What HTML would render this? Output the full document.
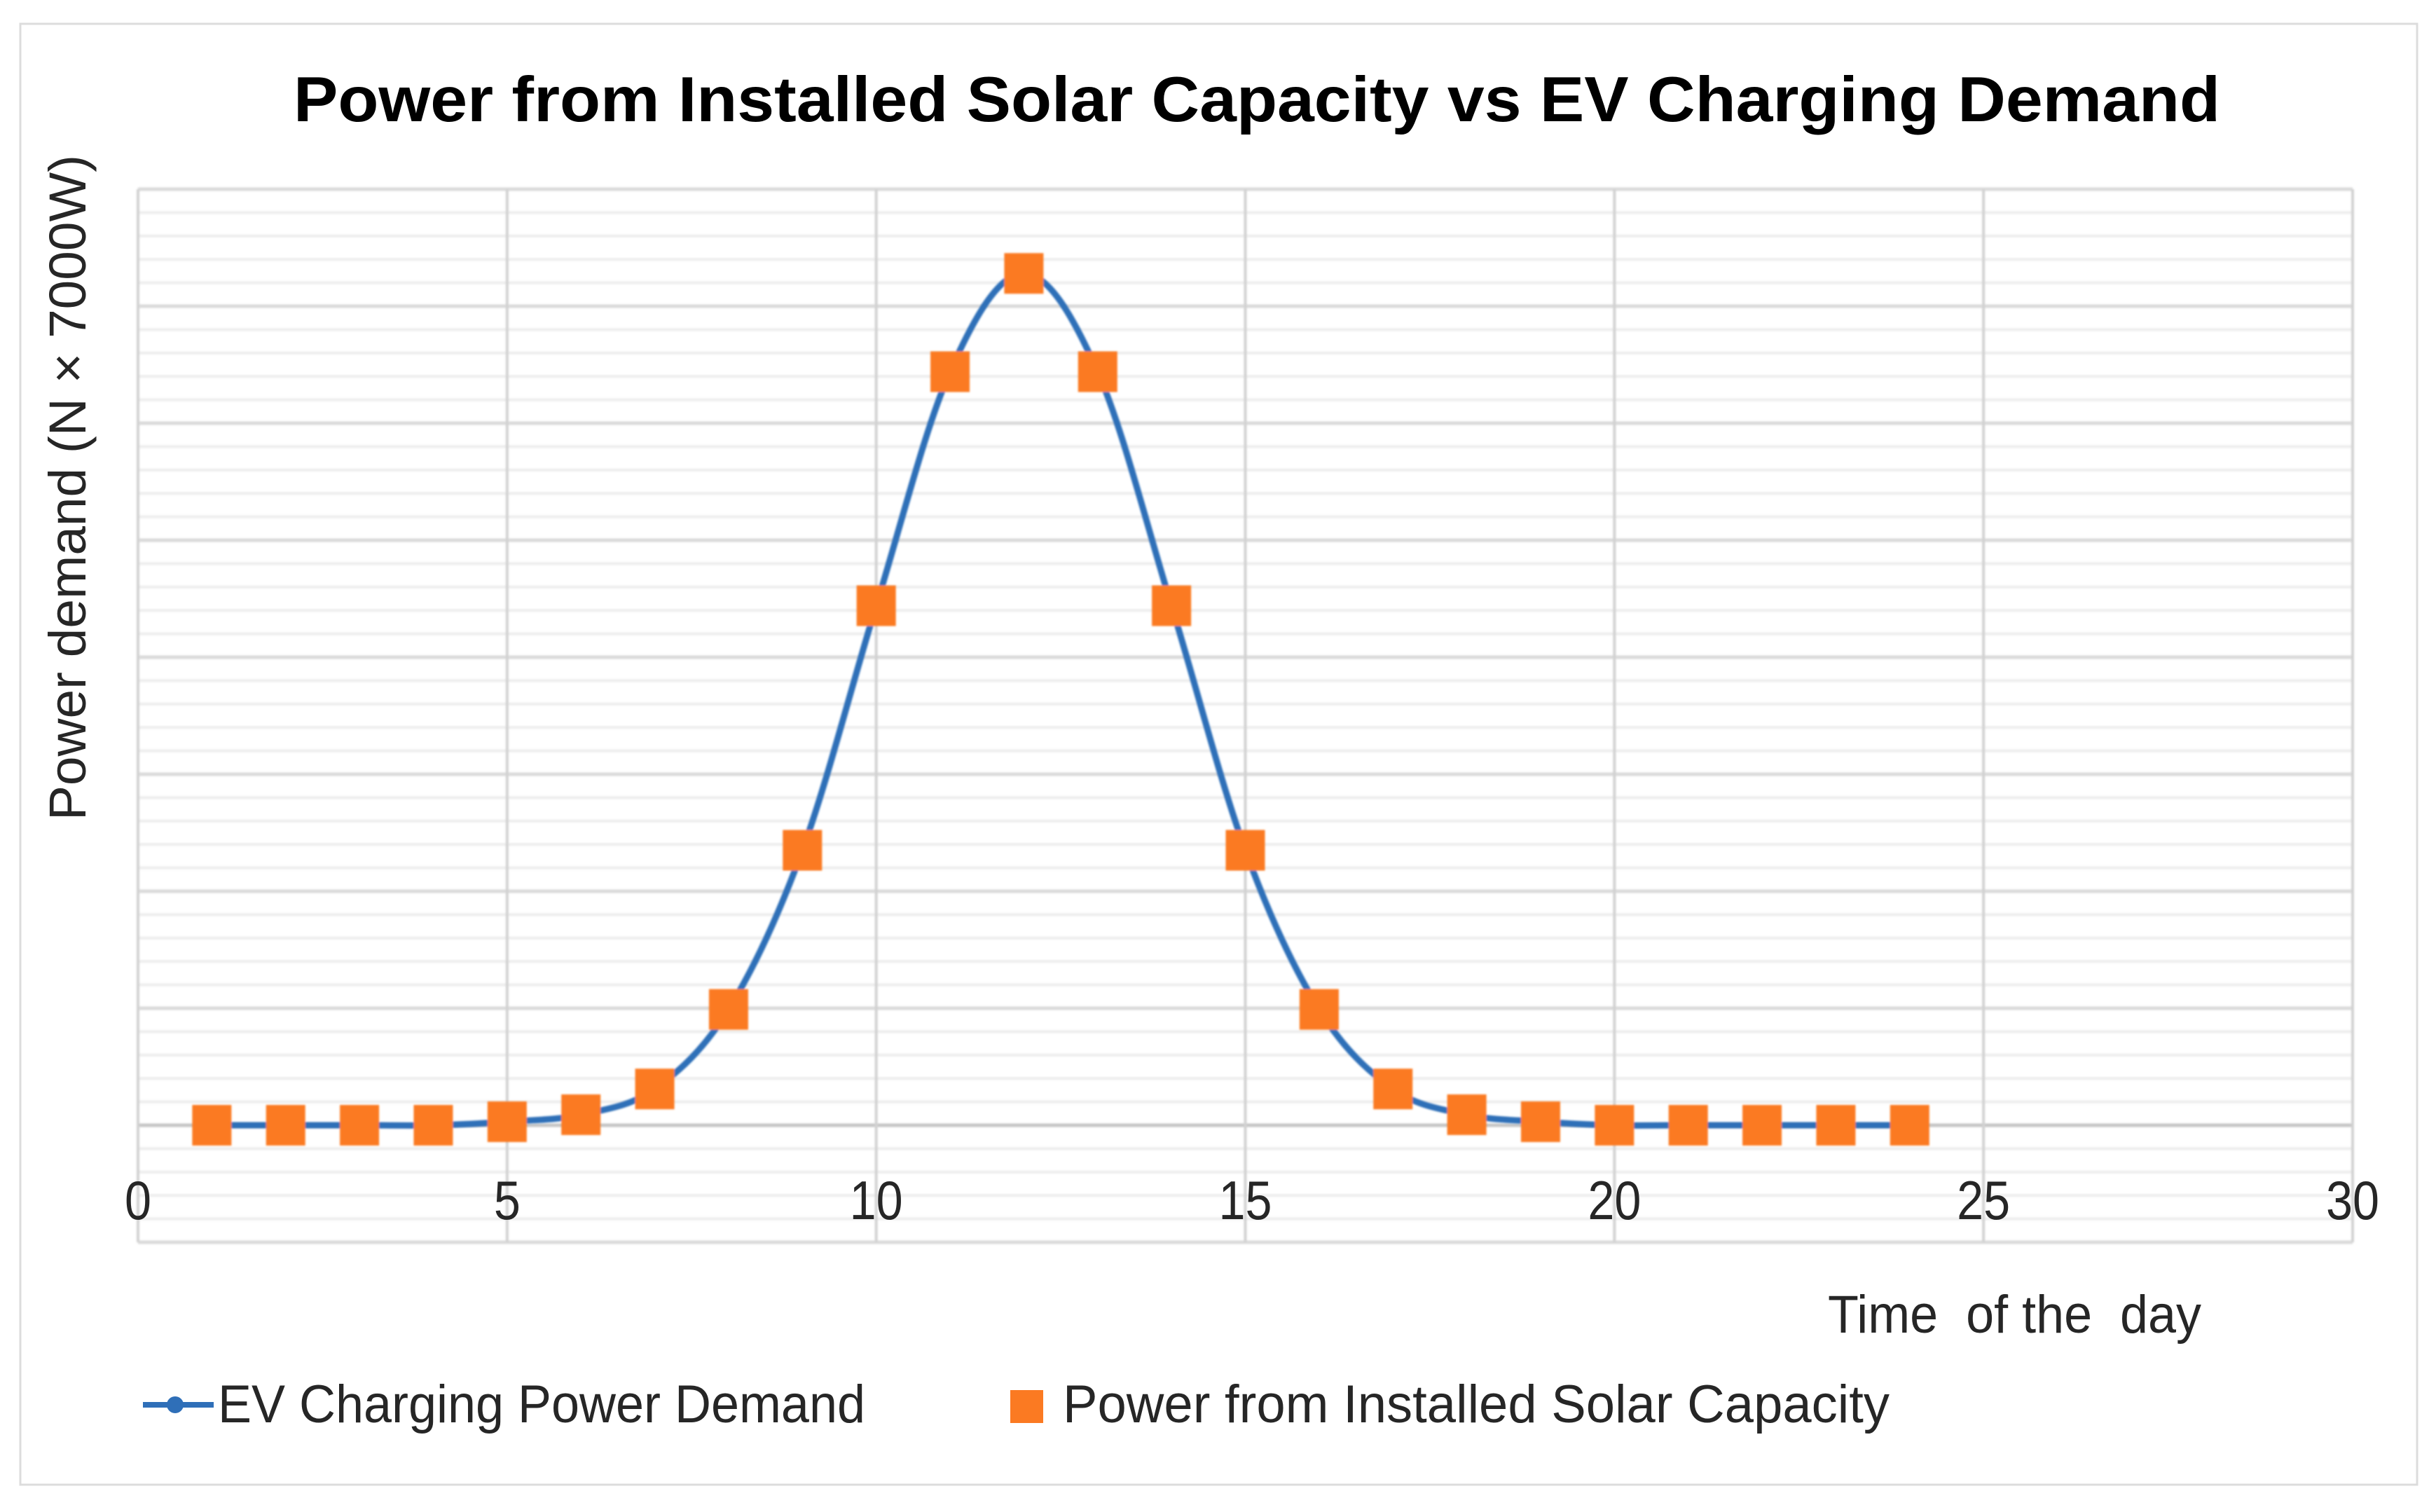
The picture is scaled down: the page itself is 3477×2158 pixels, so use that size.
<!DOCTYPE html>
<html lang="en">
<head>
<meta charset="utf-8">
<title>Power from Installed Solar Capacity vs EV Charging Demand</title>
<style>
  html, body { margin: 0; padding: 0; background: #ffffff; }
  body { width: 3477px; height: 2158px; overflow: hidden; }
  svg { display: block; }
  text { font-family: "Liberation Sans", sans-serif; fill: #262626; }
</style>
</head>
<body>
<svg id="chart" xmlns="http://www.w3.org/2000/svg" width="3477" height="2158" viewBox="0 0 3477 2158">
  <rect x="0" y="0" width="3477" height="2158" fill="#ffffff"/>
  <rect x="29" y="34" width="3421" height="2085" fill="#ffffff" stroke="#dcdcdc" stroke-width="3"/>
  <g id="grid" filter="url(#soft)"></g>
  <g id="series" filter="url(#soft)"></g>
  <g id="ticks"></g>
  <text x="419" y="173" font-size="91" font-weight="700" textLength="2750" lengthAdjust="spacingAndGlyphs" style="fill:#000000">Power from Installed Solar Capacity vs EV Charging Demand</text>
  <text transform="translate(122,1171) rotate(-90)" x="0" y="0" font-size="74" textLength="950" lengthAdjust="spacingAndGlyphs">Power demand (N × 7000W)</text>
  <text x="2609" y="1902" font-size="76" textLength="533" lengthAdjust="spacingAndGlyphs" xml:space="preserve">Time  of the  day</text>
  <g>
    <line x1="204" y1="2005" x2="305" y2="2005" stroke="#2f6fb8" stroke-width="8"/>
    <circle cx="250" cy="2005" r="12" fill="#2f6fb8"/>
    <text x="311" y="2030" font-size="76" textLength="924" lengthAdjust="spacingAndGlyphs">EV Charging Power Demand</text>
  </g>
  <g>
    <rect x="1442" y="1984" width="47" height="47" fill="#fb7a22"/>
    <text x="1525" y="2030" font-size="76" textLength="1180" lengthAdjust="spacingAndGlyphs" transform="translate(-8,0)">Power from Installed Solar Capacity</text>
  </g>
  <defs>
    <filter id="soft" x="-5%" y="-5%" width="110%" height="110%"><feGaussianBlur stdDeviation="1.2"/></filter>
  </defs>
</svg>
<script>
const hours = [1,2,3,4,5,6,7,8,9,10,11,12,13,14,15,16,17,18,19,20,21,22,23,24];
const demandValues = [0,0,0,0,0.03,0.09,0.31,0.99,2.35,4.44,6.44,7.28,6.44,4.44,2.35,0.99,0.31,0.09,0.03,0,0,0,0,0];
const solarValues = [0,0,0,0,0.03,0.09,0.31,0.99,2.35,4.44,6.44,7.28,6.44,4.44,2.35,0.99,0.31,0.09,0.03,0,0,0,0,0];
const xTickValues = [0,5,10,15,20,25,30];
const xTickLabels = ['0','5','10','15','20','25','30'];
const yMajorTicks = [-1,0,1,2,3,4,5,6,7,8];
const minorPerMajor = 5;

const NS = 'http://www.w3.org/2000/svg';
function xScale(v) { return 197 + (v - 0) * (3358 - 197) / 30; }
function yScale(v) { return 1606 - v * 167; }

const grid = document.getElementById('grid');
const seriesGroup = document.getElementById('series');
const ticksGroup = document.getElementById('ticks');

// Minor horizontal gridlines
for (let i = 0; i < yMajorTicks.length - 1; i++) {
  for (let m = 1; m < minorPerMajor; m++) {
    const v = yMajorTicks[i] + m / minorPerMajor;
    const line = document.createElementNS(NS, 'line');
    
    
    line.setAttribute('x1', xScale(0));
    line.setAttribute('x2', xScale(30));
    line.setAttribute('y1', yScale(v));
    line.setAttribute('y2', yScale(v));
    line.setAttribute('stroke', '#ededed');
    line.setAttribute('stroke-width', '4');
    grid.appendChild(line);
  }
}
// Major horizontal gridlines
yMajorTicks.forEach(function (v) {
  const line = document.createElementNS(NS, 'line');
  
  
  line.setAttribute('x1', xScale(0));
  line.setAttribute('x2', xScale(30));
  line.setAttribute('y1', yScale(v));
  line.setAttribute('y2', yScale(v));
  line.setAttribute('stroke', v === 0 ? '#c6c6c6' : '#dadada');
  line.setAttribute('stroke-width', '5');
  grid.appendChild(line);
});
// Vertical gridlines and tick labels
xTickValues.forEach(function (v, i) {
  const line = document.createElementNS(NS, 'line');
  
  
  line.setAttribute('x1', xScale(v));
  line.setAttribute('x2', xScale(v));
  line.setAttribute('y1', yScale(8));
  line.setAttribute('y2', yScale(-1));
  line.setAttribute('stroke', '#d2d2d2');
  line.setAttribute('stroke-width', '4');
  grid.appendChild(line);

  const label = document.createElementNS(NS, 'text');
  
  
  label.setAttribute('x', xScale(v));
  label.setAttribute('y', 1740);
  label.setAttribute('font-size', '78');
  label.setAttribute('text-anchor', 'middle');
  label.setAttribute('textLength', xTickLabels[i].length * 38);
  label.setAttribute('lengthAdjust', 'spacingAndGlyphs');
  label.textContent = xTickLabels[i];
  ticksGroup.appendChild(label);
});

// Smoothed demand line (Catmull-Rom through the data points)
const pts = hours.map(function (h, i) { return [xScale(h), yScale(demandValues[i])]; });
let d = 'M' + pts[0][0] + ',' + pts[0][1];
for (let i = 0; i < pts.length - 1; i++) {
  const p0 = pts[Math.max(i - 1, 0)];
  const p1 = pts[i];
  const p2 = pts[i + 1];
  const p3 = pts[Math.min(i + 2, pts.length - 1)];
  const c1x = p1[0] + (p2[0] - p0[0]) / 6;
  const c1y = p1[1] + (p2[1] - p0[1]) / 6;
  const c2x = p2[0] - (p3[0] - p1[0]) / 6;
  const c2y = p2[1] - (p3[1] - p1[1]) / 6;
  d += ' C' + c1x + ',' + c1y + ' ' + c2x + ',' + c2y + ' ' + p2[0] + ',' + p2[1];
}
const demandLine = document.createElementNS(NS, 'path');


demandLine.setAttribute('d', d);
demandLine.setAttribute('fill', 'none');
demandLine.setAttribute('stroke', '#2f6fb8');
demandLine.setAttribute('stroke-width', '9');
seriesGroup.appendChild(demandLine);

// Solar capacity markers
hours.forEach(function (h, i) {
  const sq = document.createElementNS(NS, 'rect');
  
  
  sq.setAttribute('x', xScale(h) - 28);
  sq.setAttribute('y', yScale(solarValues[i]) - 29);
  sq.setAttribute('width', 56);
  sq.setAttribute('height', 58);
  sq.setAttribute('fill', '#fb7a22');
  seriesGroup.appendChild(sq);
});
</script>
</body>
</html>
